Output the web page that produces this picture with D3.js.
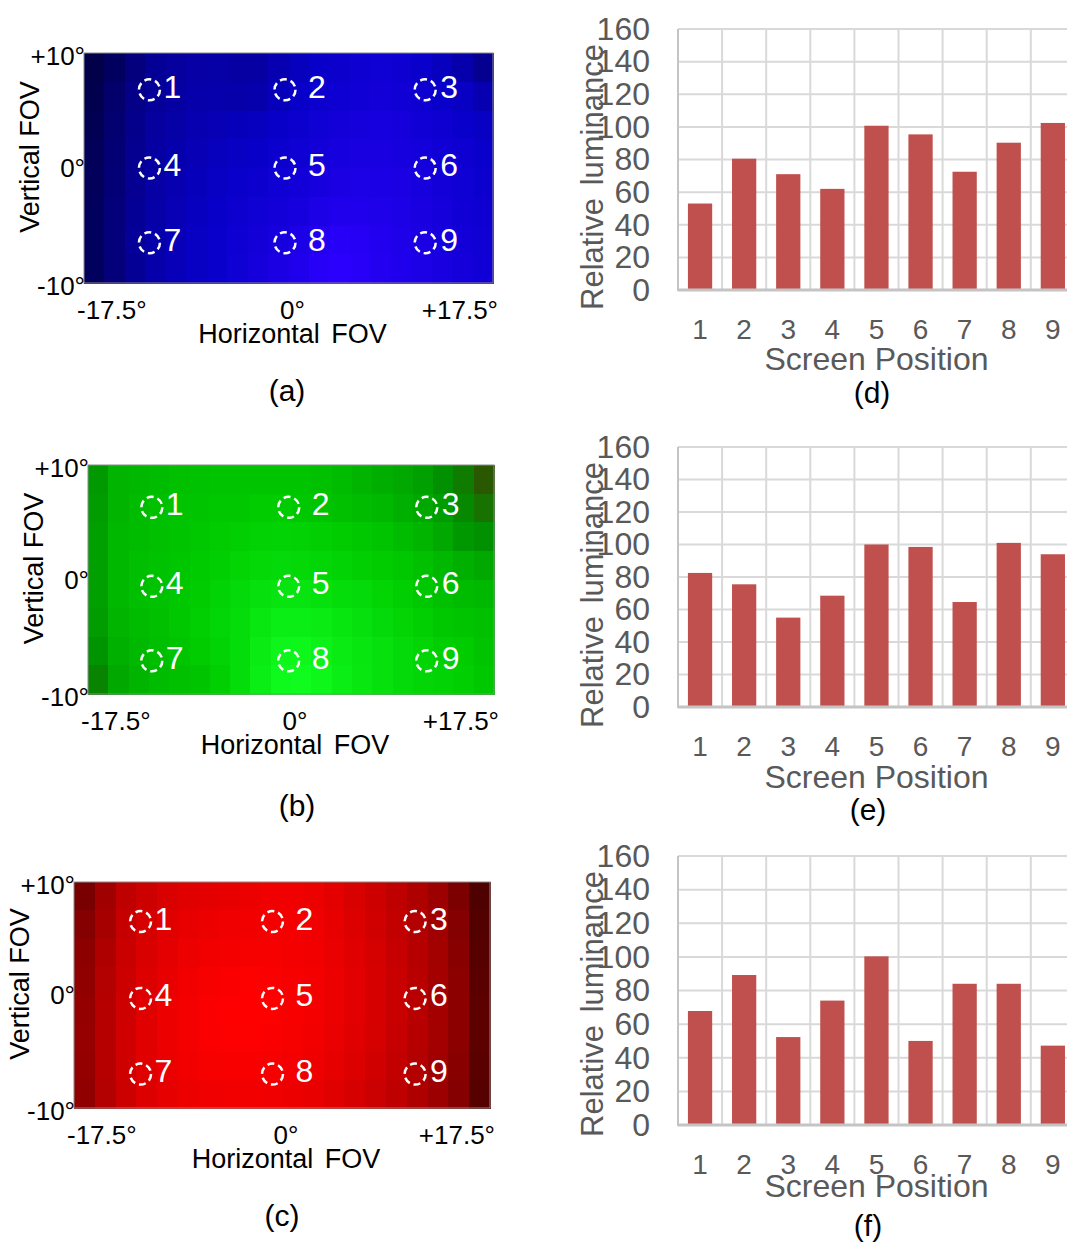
<!DOCTYPE html>
<html>
<head>
<meta charset="utf-8">
<script src="https://cdn.jsdelivr.net/npm/d3@7"></script>
<style>
  body { margin: 0; background: #fff; }
  svg { display: block; font-family: "Liberation Sans", Arial, sans-serif; }
</style>
</head>
<body>
<svg id="fig" width="1067" height="1247"></svg>
<script>
// screen positions and luminance axis
var positions = ["1", "2", "3", "4", "5", "6", "7", "8", "9"];
var lumTicks = [0, 20, 40, 60, 80, 100, 120, 140, 160];

// relative luminance per screen position (d), (e), (f)
var blueLum  = [53, 80.5, 71, 62, 100.7, 95.4, 72.5, 90.3, 102.4];
var greenLum = [82.5, 75.5, 55, 68.5, 100, 98.5, 64.6, 101, 94];
var redLum   = [67.8, 89.2, 52.3, 74, 100.3, 50, 84, 84, 47.2];

// field of view ticks
var fovXTicks = [-17.5, 0, 17.5];
var fovXLabels = ["-17.5°", "0°", "+17.5°"];
var fovYTicks = [10, 0, -10];
var fovYLabels = ["+10°", "0°", "-10°"];

// measurement spots (degrees)
var blueSpotX  = [-11.9, -0.3, 11.7], blueSpotY  = [6.8, 0, -6.5];
var greenSpotX = [-12, -0.2, 11.7],   greenSpotY = [6.3, -0.6, -7.1];
var redSpotX   = [-11.9, -0.8, 11.2], redSpotY   = [6.5, -0.3, -7];

// captured brightness maps (rows top->bottom, 20 columns, 0..100)
var blueMap = [
  [5, 15, 28, 38, 42, 45, 46, 44, 44, 50, 55, 60, 63, 66, 68, 66, 62, 56, 48, 36],
  [8, 20, 32, 40, 44, 47, 48, 47, 48, 54, 60, 64, 67, 70, 72, 70, 66, 62, 58, 50],
  [10, 22, 34, 42, 46, 50, 52, 54, 56, 60, 64, 68, 72, 74, 75, 74, 70, 66, 62, 58],
  [12, 24, 36, 44, 48, 52, 55, 58, 60, 64, 68, 72, 76, 78, 78, 76, 73, 70, 66, 62],
  [13, 25, 37, 45, 50, 54, 58, 62, 64, 68, 72, 76, 80, 82, 81, 79, 76, 72, 68, 64],
  [14, 26, 38, 46, 52, 56, 60, 65, 68, 72, 76, 82, 86, 86, 84, 82, 78, 74, 70, 66],
  [15, 27, 39, 47, 53, 58, 62, 67, 72, 76, 82, 90, 94, 92, 88, 84, 80, 76, 72, 68],
  [14, 26, 38, 47, 53, 58, 62, 68, 74, 80, 86, 94, 98, 95, 90, 86, 82, 78, 74, 70]
];
var greenMap = [
  [45, 58, 60, 62, 64, 65, 66, 66, 66, 66, 66, 64, 62, 58, 55, 52, 48, 40, 30, 12],
  [46, 58, 62, 64, 66, 66, 68, 68, 70, 70, 68, 66, 64, 62, 60, 56, 52, 46, 36, 25],
  [48, 60, 62, 64, 66, 68, 70, 72, 73, 74, 73, 72, 70, 68, 66, 62, 58, 52, 44, 40],
  [48, 60, 63, 65, 67, 69, 72, 75, 77, 78, 77, 76, 74, 72, 70, 68, 64, 60, 56, 52],
  [48, 60, 63, 65, 68, 70, 74, 78, 82, 84, 84, 82, 80, 78, 75, 72, 68, 64, 62, 60],
  [46, 58, 62, 64, 68, 72, 76, 80, 86, 90, 90, 88, 85, 82, 78, 75, 72, 68, 66, 64],
  [42, 56, 60, 63, 66, 70, 74, 80, 88, 94, 95, 92, 88, 85, 82, 78, 75, 72, 70, 66],
  [34, 52, 58, 62, 64, 66, 72, 80, 90, 97, 98, 95, 90, 86, 82, 78, 76, 74, 72, 68]
];
var redMap = [
  [30, 50, 66, 74, 80, 84, 86, 88, 90, 92, 92, 90, 86, 80, 74, 66, 58, 48, 32, 8],
  [36, 54, 70, 78, 84, 88, 90, 92, 93, 94, 94, 92, 88, 82, 76, 68, 60, 50, 36, 10],
  [40, 58, 72, 80, 86, 90, 93, 95, 96, 96, 95, 93, 89, 84, 78, 70, 62, 52, 38, 12],
  [42, 60, 74, 82, 88, 93, 96, 98, 99, 98, 96, 94, 90, 85, 79, 71, 63, 53, 40, 14],
  [44, 62, 75, 84, 90, 95, 98, 100, 100, 99, 97, 94, 90, 85, 79, 71, 63, 53, 40, 15],
  [45, 62, 76, 84, 90, 95, 98, 99, 99, 98, 96, 93, 89, 84, 78, 70, 62, 52, 40, 15],
  [44, 62, 75, 84, 89, 93, 96, 97, 97, 96, 94, 91, 87, 82, 76, 68, 60, 50, 38, 14],
  [42, 60, 74, 82, 87, 90, 92, 93, 93, 92, 90, 88, 84, 79, 73, 66, 58, 48, 36, 12]
];

var svg = d3.select("#fig");

var blueColor = d3.scaleLinear().domain([0, 60, 100]).range(["#00003c", "#0800c8", "#2d00ff"]);
var greenColor = d3.scaleLinear().domain([0, 40, 70, 100]).range(["#3c4000", "#009000", "#00cc00", "#10ff20"]);
var redColor = d3.scaleLinear().domain([0, 100]).range(["#400000", "#ff0000"]);

function drawHeatmap(cfg) {
    var g = svg.append("g");
    var cols = d3.range(cfg.map[0].length), rows = d3.range(cfg.map.length);
    var cx = d3.scaleBand().domain(cols).range([cfg.x, cfg.x + cfg.w]);
    var cy = d3.scaleBand().domain(rows).range([cfg.y, cfg.y + cfg.h]);
    var xDeg = d3.scaleLinear().domain([-17.5, 17.5]).range([cfg.x, cfg.x + cfg.w]);
    var yDeg = d3.scaleLinear().domain([10, -10]).range([cfg.y, cfg.y + cfg.h]);

    var cells = [];
    cfg.map.forEach(function (row, r) {
        row.forEach(function (v, c) { cells.push({ r: r, c: c, v: v }); });
    });
    g.selectAll(".cell")
        .data(cells)
        .enter().append("rect")
        .attr("class", "cell")
        .attr("x", function (d) { return cx(d.c); })
        .attr("y", function (d) { return cy(d.r); })
        .attr("width", cx.bandwidth() + 0.5)
        .attr("height", cy.bandwidth() + 0.5)
        .attr("fill", function (d) { return cfg.color(d.v); })
        .attr("shape-rendering", "crispEdges");

    g.append("rect")
        .attr("x", cfg.x).attr("y", cfg.y)
        .attr("width", cfg.w).attr("height", cfg.h)
        .attr("fill", "none").attr("stroke", "#8a8a8a").attr("stroke-width", 1);

    // spots 1..9
    var spots = [];
    cfg.spotY.forEach(function (sy, r) {
        cfg.spotX.forEach(function (sx, c) {
            spots.push({ x: sx, y: sy, c: c, label: positions[r * 3 + c] });
        });
    });
    var numDx = [14, 23, 15];
    g.selectAll(".spot")
        .data(spots)
        .enter().append("circle")
        .attr("class", "spot")
        .attr("cx", function (d) { return xDeg(d.x); })
        .attr("cy", function (d) { return yDeg(d.y); })
        .attr("r", 10.5)
        .attr("fill", "none")
        .attr("stroke", "#fff")
        .attr("stroke-width", 2.5)
        .attr("stroke-dasharray", "7,4");
    g.selectAll(".num")
        .data(spots)
        .enter().append("text")
        .attr("class", "num")
        .attr("x", function (d) { return xDeg(d.x) + numDx[d.c]; })
        .attr("y", function (d) { return yDeg(d.y) + 8; })
        .attr("fill", "#fff")
        .style("font-size", "32px")
        .text(function (d) { return d.label; });

    // tick labels
    var anchors = ["start", "middle", "end"], xShift = [-7, 4, 5];
    g.selectAll(".xt")
        .data(fovXTicks)
        .enter().append("text")
        .attr("x", function (d, i) { return xDeg(d) + xShift[i]; })
        .attr("y", cfg.y + cfg.h + 36)
        .attr("text-anchor", function (d, i) { return anchors[i]; })
        .style("font-size", "26px")
        .text(function (d, i) { return fovXLabels[i]; });
    var yShift = [12, 9, 12];
    g.selectAll(".yt")
        .data(fovYTicks)
        .enter().append("text")
        .attr("x", cfg.x + 1)
        .attr("y", function (d, i) { return yDeg(d) + yShift[i]; })
        .attr("text-anchor", "end")
        .style("font-size", "26px")
        .text(function (d, i) { return fovYLabels[i]; });

    g.append("text")
        .attr("x", xDeg(0) + 4)
        .attr("y", cfg.y + cfg.h + 60)
        .attr("text-anchor", "middle")
        .style("font-size", "27px")
        .style("word-spacing", "4px")
        .text("Horizontal FOV");
    g.append("text")
        .attr("transform", "translate(" + (cfg.x - 45) + "," + (yDeg(0) - 11) + ") rotate(-90)")
        .attr("text-anchor", "middle")
        .style("font-size", "27px")
        .text("Vertical FOV");

    g.append("text")
        .attr("x", cfg.labelX).attr("y", cfg.labelY)
        .attr("text-anchor", "middle")
        .style("font-size", "30px")
        .text(cfg.label);
}

function drawBars(cfg) {
    var g = svg.append("g");
    var left = 678, step = 44.1;
    var x = d3.scaleBand().domain(positions).range([left, left + step * positions.length]).padding(0);
    var y = d3.scaleLinear().domain([0, 160]).range([cfg.bottom, cfg.top]);

    // grid
    g.selectAll(".hgrid")
        .data(lumTicks)
        .enter().append("line")
        .attr("x1", left).attr("x2", 1067)
        .attr("y1", function (d) { return y(d); })
        .attr("y2", function (d) { return y(d); })
        .attr("stroke", "#d9d9d9").attr("stroke-width", 2);
    g.selectAll(".vgrid")
        .data(positions.slice(1).concat(["end"]))
        .enter().append("line")
        .attr("x1", function (d) { return d == "end" ? x.range()[1] : x(d); })
        .attr("x2", function (d) { return d == "end" ? x.range()[1] : x(d); })
        .attr("y1", y(160)).attr("y2", y(0))
        .attr("stroke", "#d9d9d9").attr("stroke-width", 2);

    var bw = x.bandwidth() * 0.55;
    g.selectAll(".bar")
        .data(cfg.values)
        .enter().append("rect")
        .attr("class", "bar")
        .attr("x", function (d, i) { return x(positions[i]) + (x.bandwidth() - bw) / 2; })
        .attr("y", function (d) { return y(d); })
        .attr("width", bw)
        .attr("height", function (d) { return y(0) - y(d); })
        .attr("fill", "#c0504d");

    // axis lines
    g.append("line")
        .attr("x1", left).attr("x2", left)
        .attr("y1", y(160)).attr("y2", y(0) + 1)
        .attr("stroke", "#c4c4c4").attr("stroke-width", 2);
    g.append("line")
        .attr("x1", left).attr("x2", 1067)
        .attr("y1", y(0)).attr("y2", y(0))
        .attr("stroke", "#c4c4c4").attr("stroke-width", 3);

    var ya = g.append("g")
        .attr("transform", "translate(" + left + ",0)")
        .call(d3.axisLeft(y).tickValues(lumTicks).tickSize(0).tickPadding(28));
    var xa = g.append("g")
        .attr("transform", "translate(0," + y(0) + ")")
        .call(d3.axisBottom(x).tickSize(0).tickPadding(29));
    [ya, xa].forEach(function (a) {
        a.select(".domain").remove();
        a.selectAll("text")
            .style("font-family", "'Liberation Sans', Arial, sans-serif")
            .attr("fill", "#595959");
    });
    ya.selectAll("text").style("font-size", "32px");
    xa.selectAll("text").style("font-size", "28px");

    g.append("text")
        .attr("transform", "translate(603," + (cfg.top + 148) + ") rotate(-90)")
        .attr("text-anchor", "middle")
        .attr("fill", "#595959")
        .style("font-size", "31px")
        .style("word-spacing", "4px")
        .text("Relative luminance");
    g.append("text")
        .attr("x", (x.range()[0] + x.range()[1]) / 2)
        .attr("y", y(0) + cfg.titleDy)
        .attr("text-anchor", "middle")
        .attr("fill", "#595959")
        .style("font-size", "32px")
        .text("Screen Position");

    g.append("text")
        .attr("x", cfg.labelX).attr("y", cfg.labelY)
        .attr("text-anchor", "middle")
        .style("font-size", "30px")
        .text(cfg.label);
}

drawHeatmap({ map: blueMap, color: blueColor, spotX: blueSpotX, spotY: blueSpotY,
    x: 84, y: 53, w: 409, h: 230, label: "(a)", labelX: 287, labelY: 401 });
drawHeatmap({ map: greenMap, color: greenColor, spotX: greenSpotX, spotY: greenSpotY,
    x: 88, y: 465, w: 406, h: 229, label: "(b)", labelX: 297, labelY: 816 });
drawHeatmap({ map: redMap, color: redColor, spotX: redSpotX, spotY: redSpotY,
    x: 74, y: 882, w: 416, h: 226, label: "(c)", labelX: 282, labelY: 1226 });

drawBars({ values: blueLum, top: 29, bottom: 290, titleDy: 80, label: "(d)", labelX: 872, labelY: 403 });
drawBars({ values: greenLum, top: 447, bottom: 707, titleDy: 81, label: "(e)", labelX: 868, labelY: 820 });
drawBars({ values: redLum, top: 856, bottom: 1125, titleDy: 72, label: "(f)", labelX: 868, labelY: 1236 });
</script>
</body>
</html>
